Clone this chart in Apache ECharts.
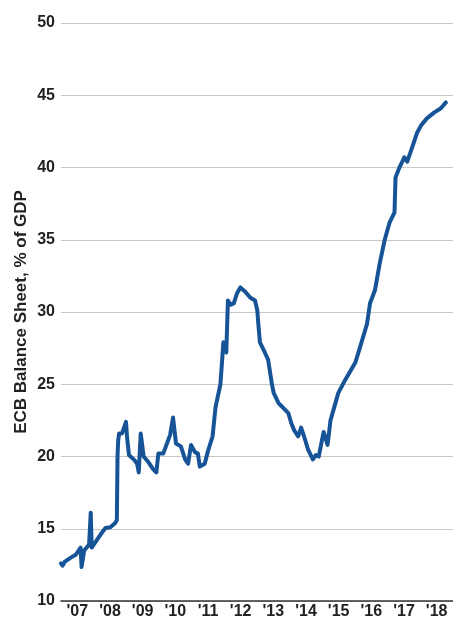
<!DOCTYPE html>
<html>
<head>
<meta charset="utf-8">
<script src="https://cdn.jsdelivr.net/npm/echarts@6/dist/echarts.min.js"></script>
<style>
html,body{margin:0;padding:0;background:#fff;}
#chart{width:453px;height:621px;}
</style>
</head>
<body>
<div id="chart"></div>
<script>
// Year labels on the x axis (centred in each year)
const yearLabels = ["'07","'08","'09","'10","'11","'12","'13","'14","'15","'16","'17","'18"];

// Dates as decimal years
const dates = [
  2007.00, 2007.05, 2007.11, 2007.30, 2007.45, 2007.60, 2007.63, 2007.71, 2007.86, 2007.91,
  2007.94, 2008.06, 2008.21, 2008.36, 2008.51, 2008.66, 2008.71, 2008.73, 2008.75, 2008.78,
  2008.87, 2008.99, 2009.02, 2009.08, 2009.23, 2009.33, 2009.38, 2009.44, 2009.53, 2009.68,
  2009.83, 2009.92, 2009.98, 2010.13, 2010.19, 2010.34, 2010.43, 2010.52, 2010.67, 2010.80,
  2010.89, 2010.98, 2011.10, 2011.19, 2011.25, 2011.40, 2011.49, 2011.64, 2011.73, 2011.88,
  2011.94, 2011.97, 2012.06, 2012.11, 2012.19, 2012.29, 2012.39, 2012.49, 2012.64, 2012.79,
  2012.94, 2013.01, 2013.04, 2013.09, 2013.24, 2013.34, 2013.45, 2013.51, 2013.66, 2013.96,
  2014.05, 2014.14, 2014.26, 2014.35, 2014.44, 2014.56, 2014.71, 2014.80, 2014.89, 2015.04,
  2015.16, 2015.25, 2015.49, 2015.70, 2016.01, 2016.16, 2016.37, 2016.46, 2016.61, 2016.76,
  2016.91, 2017.06, 2017.21, 2017.24, 2017.36, 2017.51, 2017.60, 2017.75, 2017.90, 2018.02,
  2018.20, 2018.42, 2018.63, 2018.78
];

// ECB balance sheet, % of GDP
const values = [
  12.6, 12.45, 12.7, 13.0, 13.2, 13.7, 12.35, 13.5, 13.9, 16.1,
  13.7, 14.1, 14.6, 15.05, 15.1, 15.4, 15.6, 20.0, 21.1, 21.6,
  21.6, 22.4, 21.4, 20.1, 19.8, 19.5, 18.9, 21.6, 20.0, 19.6,
  19.1, 18.9, 20.2, 20.2, 20.3, 21.5, 22.7, 20.9, 20.7, 19.8,
  19.5, 20.8, 20.3, 20.2, 19.3, 19.5, 20.3, 21.4, 23.4, 25.0,
  26.9, 27.9, 27.2, 30.8, 30.5, 30.6, 31.3, 31.7, 31.4, 31.0,
  30.8, 30.1, 29.2, 27.9, 27.2, 26.7, 25.1, 24.4, 23.7, 23.0,
  22.3, 21.8, 21.4, 22.0, 21.4, 20.5, 19.8, 20.1, 20.0, 21.7,
  20.8, 22.5, 24.4, 25.3, 26.5, 27.6, 29.2, 30.6, 31.5, 33.4,
  35.0, 36.2, 36.9, 39.3, 40.0, 40.7, 40.4, 41.4, 42.4, 42.9,
  43.4, 43.8, 44.1, 44.5
];

const seriesData = dates.map((d, i) => [d, values[i]]);

const chart = echarts.init(document.getElementById('chart'), null, {renderer: 'canvas'});
const FONT = "'Liberation Sans', Arial, sans-serif";

chart.setOption({
  animation: false,
  backgroundColor: '#ffffff',
  grid: {left: 61, right: -6, top: 23, bottom: 20, containLabel: false},
  xAxis: [
    {
      type: 'value', min: 2007, max: 2019, show: false,
      splitLine: {show: false}
    },
    {
      type: 'category', data: yearLabels, boundaryGap: true, position: 'bottom',
      axisLine: {show: true, lineStyle: {color: '#333', width: 1.5}},
      axisTick: {show: false},
      splitLine: {show: false},
      axisLabel: {
        color: '#222', fontFamily: FONT, fontWeight: 'bold', fontSize: 16, margin: 3
      }
    }
  ],
  yAxis: {
    type: 'value', min: 10, max: 50, interval: 5,
    name: 'ECB Balance Sheet, % of GDP',
    nameLocation: 'middle', nameRotate: 90, nameGap: 31, nameMoveOverlap: false,
    nameTextStyle: {color: '#222', fontFamily: FONT, fontWeight: 'bold', fontSize: 17},
    axisLine: {show: false},
    axisTick: {show: false},
    axisLabel: {color: '#222', fontFamily: FONT, fontWeight: 'bold', fontSize: 16, margin: 6},
    splitLine: {show: true, lineStyle: {color: '#c8c8c8', width: 1}}
  },
  series: [{
    type: 'line',
    xAxisIndex: 0,
    data: seriesData,
    showSymbol: false,
    symbol: 'none',
    lineStyle: {color: '#175497', width: 4, join: 'round', cap: 'round'},
    z: 5
  }]
});
</script>
</body>
</html>
